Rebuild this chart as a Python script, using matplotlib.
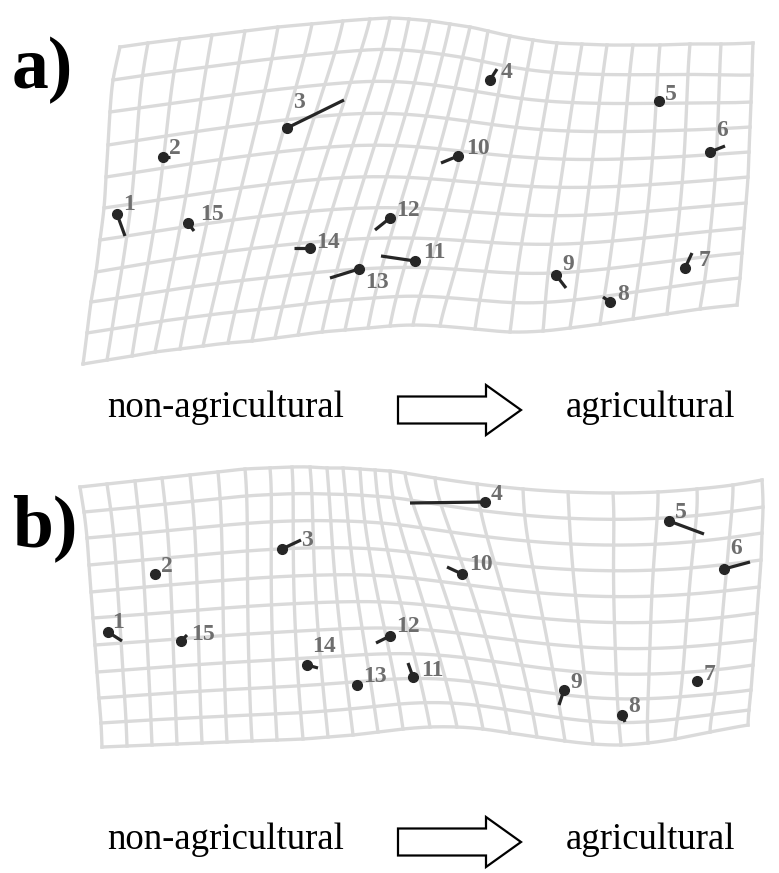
import numpy as np
import matplotlib.pyplot as plt
from matplotlib.patches import FancyArrow

plt.rcParams['font.family'] = ['Liberation Serif', 'DejaVu Serif']

NCOL = 25   # vertical grid lines
NROW = 11   # horizontal grid lines

# --- panel a: warped grid outline (pixel coordinates) ---
a_top_x = [120, 148, 180, 212, 245, 278, 312, 343, 370, 390, 409, 430, 450,
           470, 488, 510, 533, 557, 582, 607, 633, 660, 690, 721, 753]
a_top_y = [47, 43, 39, 35, 31, 27, 24, 21, 19, 18, 19, 21, 24,
           27, 31, 36, 40, 43, 44, 45, 45, 45, 44, 44, 43]
a_bot_x = [83, 107, 132, 155, 180, 203, 228, 252, 275, 298, 322, 345, 368,
           390, 413, 440, 475, 510, 543, 570, 600, 633, 667, 700, 737]
a_bot_y = [364, 360, 356, 352, 349, 346, 343, 341, 338, 335, 332, 330, 328,
           326, 325, 326, 329, 332, 331, 328, 324, 319, 314, 309, 305]
a_left_x = [120, 113, 110, 108, 106, 104, 100, 96, 91, 87, 83]
a_left_y = [47, 80, 112, 145, 177, 208, 240, 272, 302, 333, 364]
a_right_x = [753, 752, 751, 750, 749, 748, 746, 744, 742, 740, 737]
a_right_y = [43, 75, 102, 127, 152, 177, 203, 228, 253, 278, 305]

# --- panel b: warped grid outline ---
b_top_x = [80, 107, 135, 162, 190, 218, 245, 270, 292, 310, 327, 343, 360,
           375, 390, 405, 435, 477, 523, 568, 613, 658, 697, 733, 762]
b_top_y = [487, 484, 481, 478, 475, 472, 469, 468, 467, 467, 468, 468, 469,
           470, 471, 473, 478, 484, 489, 492, 493, 492, 489, 485, 480]
b_bot_x = [102, 127, 152, 177, 202, 227, 252, 277, 303, 328, 353, 378, 403,
           430, 457, 483, 510, 537, 565, 593, 621, 648, 675, 710, 748]
b_bot_y = [747, 746, 745, 744, 743, 742, 741, 740, 739, 737, 735, 732, 729,
           727, 727, 729, 733, 737, 741, 744, 745, 743, 739, 732, 725]
b_left_x = [80, 84, 87, 89, 91, 93, 95, 97, 99, 101, 102]
b_left_y = [487, 512, 538, 565, 592, 618, 645, 672, 698, 723, 747]
b_right_x = [762, 763, 762, 761, 759, 757, 755, 753, 751, 749, 748]
b_right_y = [480, 507, 533, 560, 587, 613, 640, 665, 690, 710, 725]

# --- landmarks: dot position and end of displacement stick ---
lm_ids = [str(k) for k in range(1, 16)]

a_dot_x = [117, 163, 287, 490, 659, 710, 685, 610, 556, 458, 415, 390, 359, 310, 188]
a_dot_y = [214, 157, 128, 80, 101, 152, 268, 302, 275, 156, 261, 218, 269, 248, 223]
a_end_x = [125, 170, 344, 497, 659, 725, 692, 603, 566, 441, 381, 375, 330, 294, 194]
a_end_y = [236, 157, 100, 69, 101, 146, 253, 297, 288, 163, 256, 230, 278, 248, 231]

b_dot_x = [108, 155, 282, 485, 669, 724, 697, 622, 564, 462, 413, 390, 357, 307, 181]
b_dot_y = [632, 574, 549, 502, 521, 569, 681, 715, 690, 574, 677, 636, 685, 665, 641]
b_end_x = [122, 155, 301, 410, 704, 750, 697, 625, 559, 447, 408, 376, 357, 318, 187]
b_end_y = [641, 574, 540, 503, 534, 562, 681, 722, 705, 567, 663, 643, 685, 668, 635]

# label offsets from the dot (pixels)
a_lab_dx = [6, 6, 6, 11, 6, 6, 14, 7, 6, 8, 8, 6, 6, 6, 12]
a_lab_dy = [-10, -9, -25, -8, -7, -21, -8, -8, -11, -8, -8, -8, 13, -6, -8]
b_lab_dx = [4, 6, 19, 6, 6, 6, 7, 6, 6, 7, 8, 6, 6, 5, 10]
b_lab_dy = [-10, -8, -8, -7, -9, -20, -6, -9, -8, -9, -7, -9, -8, -18, -7]


def kernel(r):
    r2 = r ** 2
    return np.where(r > 0, r2 * np.log(np.maximum(r2, 1e-12)), 0.0)


def tps_fit(src, dst, lam=0.05):
    n = len(src)
    d = np.sqrt(((src[:, None, :] - src[None, :, :]) ** 2).sum(-1))
    A = np.zeros((n + 3, n + 3))
    A[:n, :n] = kernel(d) + lam * np.eye(n)
    P = np.hstack([np.ones((n, 1)), src])
    A[:n, n:] = P
    A[n:, :n] = P.T
    b = np.zeros((n + 3, 2))
    b[:n] = dst
    return src, np.linalg.solve(A, b)


def tps_eval(model, pts):
    src, coef = model
    n = len(src)
    d = np.sqrt(((pts[:, None, :] - src[None, :, :]) ** 2).sum(-1))
    return kernel(d) @ coef[:n] + coef[n] + pts @ coef[n + 1:]


def grid_model(top_x, top_y, bot_x, bot_y, left_x, left_y, right_x, right_y):
    src, dst = [], []
    for i in range(NCOL):
        src.append((i, 0)); dst.append((top_x[i], top_y[i]))
        src.append((i, NROW - 1)); dst.append((bot_x[i], bot_y[i]))
    for j in range(1, NROW - 1):
        src.append((0, j)); dst.append((left_x[j], left_y[j]))
        src.append((NCOL - 1, j)); dst.append((right_x[j], right_y[j]))
    return tps_fit(np.array(src, float), np.array(dst, float))


def draw_grid(ax, model):
    t = np.linspace(0, NROW - 1, 80)
    for i in range(NCOL):
        xy = tps_eval(model, np.column_stack([np.full_like(t, i), t]))
        ax.plot(xy[:, 0], xy[:, 1], color='#dadada', lw=2.4, zorder=1)
    s = np.linspace(0, NCOL - 1, 200)
    for j in range(NROW):
        xy = tps_eval(model, np.column_stack([s, np.full_like(s, j)]))
        ax.plot(xy[:, 0], xy[:, 1], color='#dadada', lw=2.4, zorder=1)


def draw_landmarks(ax, dx, dy, ex, ey, ldx, ldy):
    for k in range(len(lm_ids)):
        ax.plot([dx[k], ex[k]], [dy[k], ey[k]], color='#262626', lw=2.3,
                solid_capstyle='butt', zorder=3)
        ax.plot(dx[k], dy[k], 'o', color='#262626', ms=7, zorder=4)
        ax.text(dx[k] + ldx[k], dy[k] + ldy[k], lm_ids[k], fontsize=17,
                fontweight='bold', color='#6e6e6e', ha='left', va='center',
                zorder=5)


def draw_caption(ax, y):
    ax.text(226, y, 'non-agricultural', fontsize=26.5, ha='center', va='center')
    ax.text(651, y, 'agricultural', fontsize=26.5, ha='center', va='center')
    ax.add_patch(FancyArrow(398, y + 2, 123, 0, width=27, head_width=50,
                            head_length=35, length_includes_head=True,
                            fc='white', ec='black', lw=1.6))


fig = plt.figure(figsize=(7.79, 8.73), dpi=100)
ax = fig.add_axes([0, 0, 1, 1])
ax.set_xlim(0, 779)
ax.set_ylim(873, 0)
ax.axis('off')

draw_grid(ax, grid_model(a_top_x, a_top_y, a_bot_x, a_bot_y,
                         a_left_x, a_left_y, a_right_x, a_right_y))
draw_landmarks(ax, a_dot_x, a_dot_y, a_end_x, a_end_y, a_lab_dx, a_lab_dy)
draw_caption(ax, 408)

draw_grid(ax, grid_model(b_top_x, b_top_y, b_bot_x, b_bot_y,
                         b_left_x, b_left_y, b_right_x, b_right_y))
draw_landmarks(ax, b_dot_x, b_dot_y, b_end_x, b_end_y, b_lab_dx, b_lab_dy)
draw_caption(ax, 840)

ax.text(12, 70, 'a)', fontsize=53, fontweight='bold', ha='left', va='center')
ax.text(12, 528, 'b)', fontsize=53, fontweight='bold', ha='left', va='center')

fig.savefig('out.png', dpi=100)
